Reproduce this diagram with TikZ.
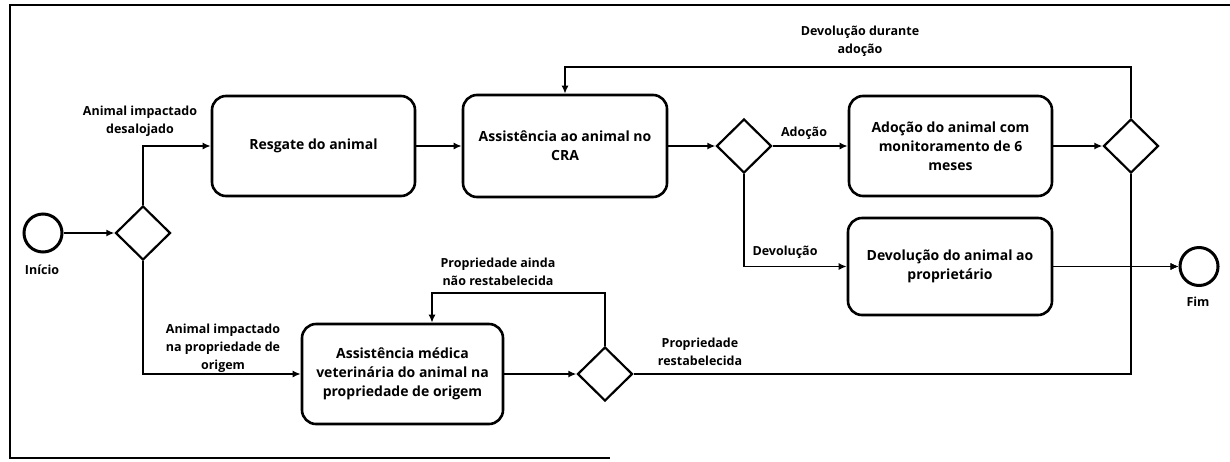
\documentclass[tikz,border=0pt]{standalone}
\usepackage{fontspec}
\setmainfont{Open Sans}
\usetikzlibrary{arrows.meta,shapes.geometric}
\begin{document}
\begin{tikzpicture}[x=1pt,y=-1pt,
 task/.style={draw, line width=2.6pt, rounded corners=14pt, align=center, font=\fontsize{14}{19}\selectfont\bfseries, inner sep=0pt},
 gate/.style={draw, diamond, line width=2.2pt, minimum width=55pt, minimum height=54pt, inner sep=0pt},
 ev/.style={draw, circle, line width=3pt, minimum size=38pt, inner sep=0pt},
 flow/.style={line width=1.9pt, -{Latex[length=8pt,width=7pt]}},
 lbl/.style={align=center, font=\fontsize{12.5}{18}\selectfont\bfseries, inner sep=0pt}
]
\useasboundingbox (0,0) rectangle (1230,461);
\draw[line width=1.6pt] (1230,5) -- (10,5) -- (10,458) -- (610,458);

% nodes
\node[ev] (start) at (43,233) {};
\node[lbl] (lstart) at (42,270) {Início};
\node[gate] (g1) at (143,233) {};
\node[task, minimum width=203pt, minimum height=100pt] (resg) at (313.5,146) {Resgate do animal};
\node[task, minimum width=204pt, minimum height=102pt] (cra) at (565,146) {Assistência ao animal no\\CRA};
\node[gate] (g2) at (744,146) {};
\node[task, minimum width=203pt, minimum height=100pt] (adoc) at (950.5,146) {Adoção do animal com\\monitoramento de 6\\meses};
\node[gate] (g3) at (1131,146) {};
\node[task, minimum width=204pt, minimum height=97pt] (dev) at (950,266.5) {Devolução do animal ao\\proprietário};
\node[ev] (fim) at (1199,266.5) {};
\node[lbl] (lfim) at (1198,302) {Fim};
\node[task, minimum width=201pt, minimum height=100pt] (vet) at (402.5,374) {Assistência médica\\veterinária do animal na\\propriedade de origem};
\node[gate] (g4) at (605,374) {};

% coordinates
\coordinate (tr) at (1131,67);
\coordinate (j) at (1131,266.5);
\coordinate (lp) at (432,293);

% labels
\node[lbl] (l1) at (140,121) {Animal impactado\\desalojado};
\node[lbl] (l2) at (223,348) {Animal impactado\\na propriedade de\\origem};
\node[lbl] (l3) at (804,133) {Adoção};
\node[lbl] (l4) at (785,252) {Devolução};
\node[lbl] (l5) at (860,41) {Devolução durante\\adoção};
\node[lbl] (l6) at (498,272) {Propriedade ainda\\não restabelecida};
\node[lbl] (l7) at (700,352) {Propriedade\\restabelecida};

% connectors
\draw[flow] (start) -- (g1);
\draw[flow] (g1.north) |- (resg.west);
\draw[flow] (g1.south) |- (vet.west);
\draw[flow] (resg) -- (cra);
\draw[flow] (cra) -- (g2);
\draw[flow] (g2) -- (adoc);
\draw[flow] (g2.south) |- (dev.west);
\draw[flow] (adoc) -- (g3);
\draw[flow] (g3.north) -- (tr) -| (cra.north);
\draw[flow] (g3.south) -- (j) -- (fim.west);
\draw[flow] (dev) -- (fim);
\draw[flow] (vet) -- (g4);
\draw[flow] (g4.north) |- (lp) -- (lp |- vet.north);
\draw[flow] (g4.east) -| (j) -- (fim.west);
\end{tikzpicture}
\end{document}
